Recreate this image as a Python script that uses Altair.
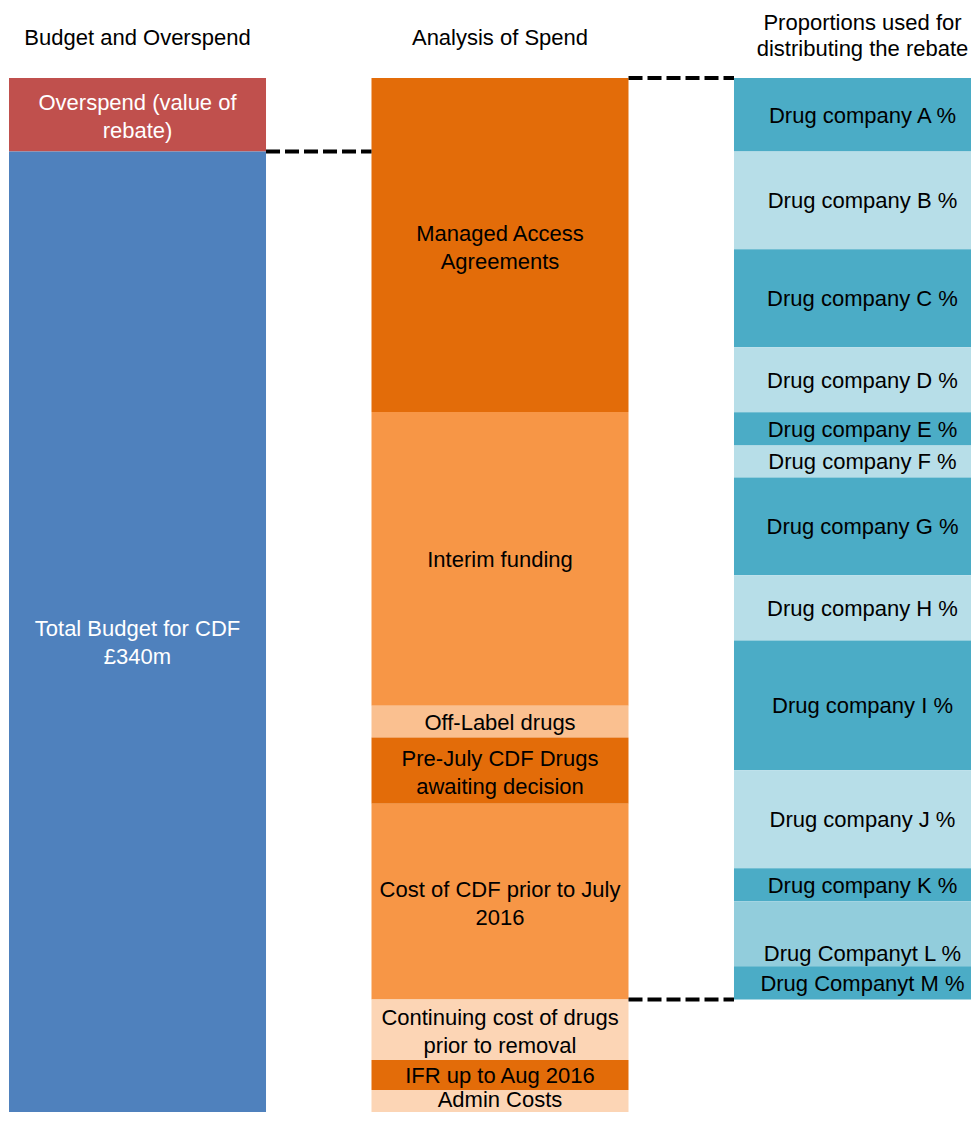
import altair as alt
import pandas as pd

FONT = "Liberation Sans"

# ---- data -------------------------------------------------------------
columns = [
    "Budget and Overspend",
    "Analysis of Spend",
    "Proportions used for|distributing the rebate",
]

budget_labels = ["Overspend (value of|rebate)", "Total Budget for CDF|£340m"]
budget_values = [25.5, 340]

spend_labels = [
    "Managed Access|Agreements",
    "Interim funding",
    "Off-Label drugs",
    "Pre-July CDF Drugs|awaiting decision",
    "Cost of CDF prior to July|2016",
    "Continuing cost of drugs|prior to removal",
    "IFR up to Aug 2016",
    "Admin Costs",
]
spend_values = [116, 102, 11, 23, 68, 21, 10.4, 14]

company_labels = [
    "Drug company A %", "Drug company B %", "Drug company C %",
    "Drug company D %", "Drug company E %", "Drug company F %",
    "Drug company G %", "Drug company H %", "Drug company I %",
    "Drug company J %", "Drug company K %", "Drug Companyt L %",
    "Drug Companyt M %",
]
company_values = [25.5, 34, 34, 22.6, 11.5, 11.1, 34, 22.6, 45.1, 34, 11.5, 22.6, 11.5]

# ---- styles -------------------------------------------------------------
budget_colors = ["#C0504D", "#4F81BD"]
spend_colors = ["#E36C09", "#F79646", "#FAC090", "#E36C09",
                "#F79646", "#FCD5B5", "#E36C09", "#FCD5B5"]
company_colors = ["#4BACC6", "#B7DEE8", "#4BACC6", "#B7DEE8", "#4BACC6",
                  "#B7DEE8", "#4BACC6", "#B7DEE8", "#4BACC6", "#B7DEE8",
                  "#4BACC6", "#92CDDC", "#4BACC6"]
bottom_anchored = ["Drug Companyt L %"]
top_anchored = ["Admin Costs"]
FS = 22
LH = 28
HEAD_LH = 26

# ---- tables -------------------------------------------------------------
rows = []
for col, labels, values in [
    (columns[0], budget_labels, budget_values),
    (columns[1], spend_labels, spend_values),
    (columns[2], company_labels, company_values),
]:
    for i, (lab, val) in enumerate(zip(labels, values)):
        rows.append({"column": col, "label": lab, "value": val, "idx": i})
df = pd.DataFrame(rows)

all_labels = budget_labels + spend_labels + company_labels
all_colors = budget_colors + spend_colors + company_colors

connectors = pd.DataFrame([
    {"from": columns[0], "to": columns[1], "y": budget_values[0]},
    {"from": columns[1], "to": columns[2], "y": 0},
    {"from": columns[1], "to": columns[2], "y": sum(company_values)},
])
headers = pd.DataFrame({"column": columns})

total = sum(budget_values)

# ---- scales ------------------------------------------------------------
x_scale = alt.Scale(domain=columns, range=[1, 983], paddingInner=0.291, paddingOuter=0)
y_scale = alt.Scale(domain=[0, total], range=[0, 1052.5], nice=False, zero=False)

def xenc(field="column:N", **kw):
    return alt.X(field, sort=columns, scale=x_scale, axis=None, **kw)

bars = alt.Chart(df).mark_bar().encode(
    x=xenc(),
    y=alt.Y("value:Q", stack="zero", scale=y_scale, axis=None),
    color=alt.Color("label:N", scale=alt.Scale(domain=all_labels, range=all_colors), legend=None),
    order=alt.Order("idx:Q"),
)

text_base = alt.Chart(df).transform_stack(
    stack="value", groupby=["column"],
    sort=[alt.SortField("idx", order="ascending")], as_=["y0", "y1"],
).transform_calculate(
    mid="(datum.y0 + datum.y1) / 2",
    lines="split(datum.label, '|')",
).transform_calculate(
    n="length(datum.lines)",
)

text_color = alt.condition(
    f"datum.column == '{columns[0]}'", alt.value("white"), alt.value("black")
)

def in_list(lst):
    return "indexof(" + str(lst).replace('"', "'") + ", datum.label) >= 0"

special = f"({in_list(bottom_anchored)} || {in_list(top_anchored)})"

def text_layer(flt, ypos, baseline, dy):
    return text_base.transform_filter(flt).mark_text(
        font=FONT, fontSize=FS, lineHeight=LH, baseline=baseline,
        align="center", dy=dy,
    ).encode(
        x=xenc(),
        y=alt.Y(ypos, scale=y_scale, axis=None),
        text=alt.Text("lines:N"),
        color=text_color,
    )

texts_single = text_layer(f"!{special} && datum.n == 1", "mid:Q", "middle", 1)
texts_multi = text_layer(f"!{special} && datum.n > 1", "mid:Q", "middle", -LH / 2 + 2.5)
texts_bottom = text_layer(in_list(bottom_anchored), "y1:Q", "bottom", 0)
texts_top = text_layer(in_list(top_anchored), "y0:Q", "top", 0)

head_base = alt.Chart(headers).transform_calculate(
    lines="split(datum.column, '|')"
).transform_calculate(n="length(datum.lines)")

def head_layer(flt, dy):
    return head_base.transform_filter(flt).mark_text(
        font=FONT, fontSize=FS, lineHeight=HEAD_LH, baseline="middle",
        align="center", color="black", dy=dy,
    ).encode(
        x=xenc(),
        y=alt.value(-40),
        text=alt.Text("lines:N"),
    )

head_single = head_layer("datum.n == 1", 0)
head_multi = head_layer("datum.n > 1", -HEAD_LH / 2 - 2)

rules = alt.Chart(connectors).mark_rule(
    color="black", strokeWidth=4, strokeDash=[14, 5]
).encode(
    x=xenc("from:N", bandPosition=1),
    x2=alt.X2("to:N", bandPosition=0),
    y=alt.Y("y:Q", scale=y_scale, axis=None),
)

chart = alt.layer(
    bars, texts_single, texts_multi, texts_bottom, texts_top,
    head_single, head_multi, rules
).properties(
    width=963, height=1034,
    autosize=alt.AutoSizeParams(type="none"),
    padding={"top": 70, "left": 0, "right": 0, "bottom": 0},
    background="white",
).configure_view(stroke=None)

chart.save("out.html", embed_options={"renderer": "svg", "actions": False})
